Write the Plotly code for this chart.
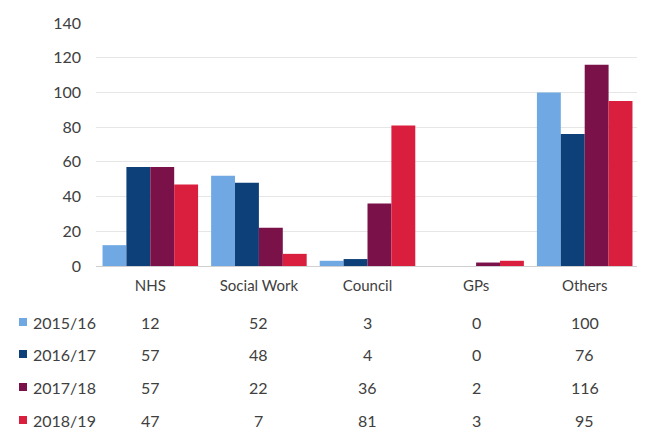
import plotly.graph_objects as go

categories = ["NHS", "Social Work", "Council", "GPs", "Others"]
series_names = ["2015/16", "2016/17", "2017/18", "2018/19"]
v_2015 = [12, 52, 3, 0, 100]
v_2016 = [57, 48, 4, 0, 76]
v_2017 = [57, 22, 36, 2, 116]
v_2018 = [47, 7, 81, 3, 95]
series_values = [v_2015, v_2016, v_2017, v_2018]
colors = ["#6FA8E2", "#0D3F78", "#7A1149", "#D91F3D"]
y_ticks = [0, 20, 40, 60, 80, 100, 120, 140]

FONT = "Lato, Open Sans, sans-serif"
TXT = "#404040"

fig = go.Figure()
for name, vals, c in zip(series_names, series_values, colors):
    fig.add_trace(go.Bar(x=categories, y=vals, name=name, marker_color=c,
                         marker_line_width=0))

# page body has an 8px offset; size the figure to the visible area
OFF = 8
W, H = 645 - OFF, 439 - OFF
L, R, T, B = 96 - OFF, 6, 23 - OFF, 173
ph = H - T - B
pw = W - L - R
row_px = [322, 354, 387, 420]

ann = []
shapes = []
for i, (name, vals, c) in enumerate(zip(series_names, series_values, colors)):
    yp = (H - B - (row_px[i] - OFF)) / ph
    for cat, v in zip(categories, vals):
        ann.append(dict(x=cat, xref="x", y=yp, yref="paper", text=str(v),
                        showarrow=False, xanchor="center", yanchor="middle",
                        font=dict(family=FONT, size=16, color=TXT)))
    ann.append(dict(x=(31 - OFF - L) / pw, xref="paper", y=yp, yref="paper",
                    text=name, showarrow=False, xanchor="left", yanchor="middle",
                    font=dict(family=FONT, size=16, color=TXT)))
    x0 = (19 - OFF - L) / pw
    x1 = (27 - OFF - L) / pw
    shapes.append(dict(type="rect", xref="paper", yref="paper",
                       x0=x0, x1=x1, y0=yp - 4 / ph, y1=yp + 4 / ph,
                       fillcolor=c, line_width=0))

fig.update_layout(
    width=W, height=H,
    margin=dict(l=L, r=R, t=T, b=B, autoexpand=False),
    paper_bgcolor="white", plot_bgcolor="white",
    barmode="group", bargap=0.12, bargroupgap=0,
    showlegend=False,
    annotations=ann, shapes=shapes,
    font=dict(family=FONT, color=TXT),
)
fig.update_xaxes(showgrid=False, showline=True, linecolor="#D0D0D0", linewidth=1,
                 ticks="", ticklabelstandoff=6,
                 tickfont=dict(family=FONT, size=15, color=TXT))
fig.update_yaxes(range=[0, 140], tickvals=y_ticks, showgrid=True, gridcolor="#E6E6E6",
                 zeroline=False, ticks="", ticklabelstandoff=14,
                 tickfont=dict(family=FONT, size=16, color=TXT))

fig.write_html("out.html")
